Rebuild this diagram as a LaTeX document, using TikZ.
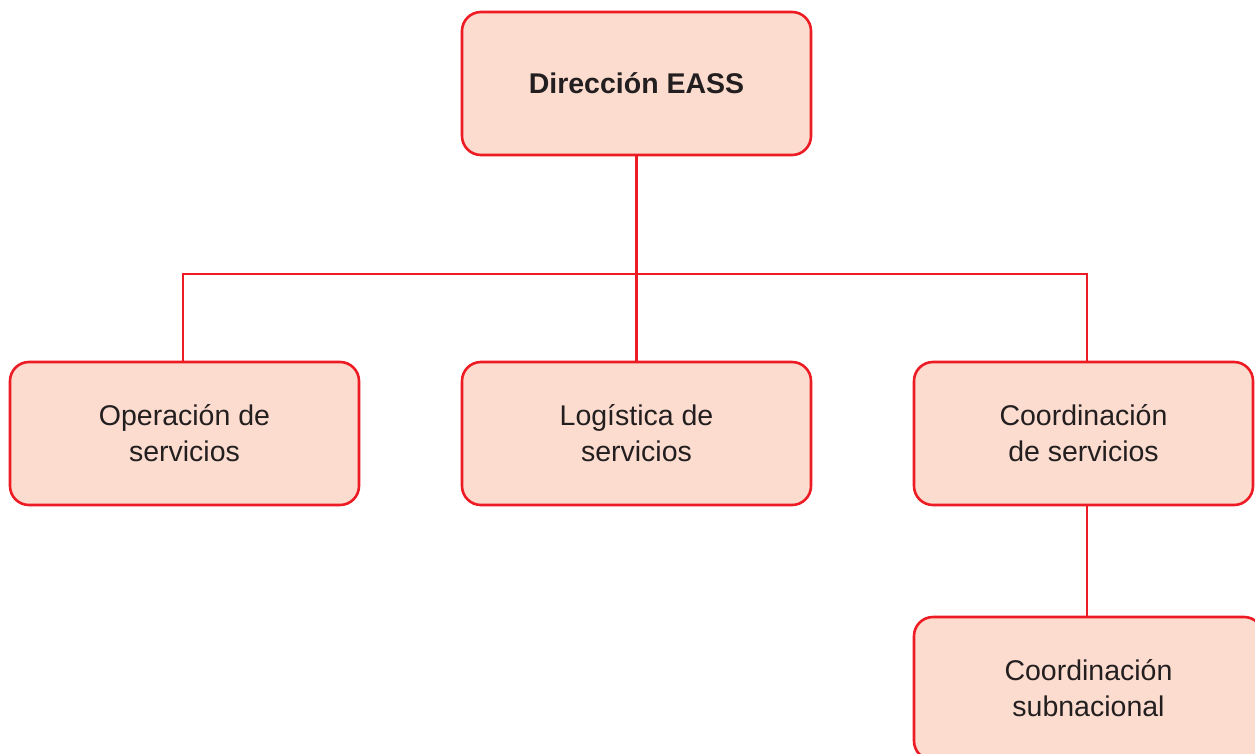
\documentclass[tikz,border=0pt]{standalone}
\usepackage{fontspec}
\setmainfont{Liberation Sans}
\definecolor{boxfill}{HTML}{FCDCCE}
\definecolor{boxline}{HTML}{ED1C24}
\definecolor{txt}{HTML}{231F20}
\begin{document}
\begin{tikzpicture}[x=1pt,y=-1pt,
  orgbox/.style={draw=boxline,fill=boxfill,line width=2.6pt,rounded corners=19pt,
    minimum width=349pt,minimum height=143pt,inner sep=0pt,align=center,text=txt,
    font=\fontsize{28.5}{36}\selectfont},
  link/.style={draw=boxline,line width=2.2pt}]
\useasboundingbox (0,0) rectangle (1255,754);
\node[orgbox,font=\fontsize{28.5}{36}\selectfont\bfseries] (dir) at (636.5,83.5) {Dirección EASS};
\node[orgbox] (op) at (184.5,433.5) {Operación de\\servicios};
\node[orgbox] (log) at (636.5,433.5) {Logística de\\servicios};
\node[orgbox,minimum width=339pt] (coord) at (1083.5,433.5) {Coordinación\\de servicios};
\node[orgbox,minimum width=349pt] (sub) at (1088.5,688.5) {Coordinación\\subnacional};
\coordinate (bus) at (636.5,274);
\draw[link] (dir.south) -- (log.north);
\draw[link] (op.north -| 183,0) |- (bus) -| (coord.north -| 1087,0);
\draw[link] (coord.south -| 1087,0) -- (sub.north -| 1087,0);
\end{tikzpicture}
\end{document}
